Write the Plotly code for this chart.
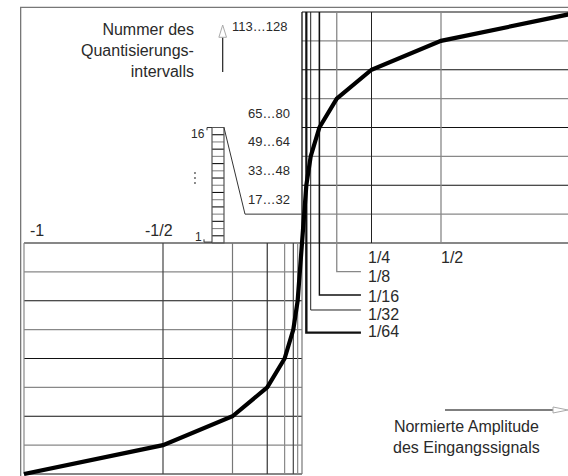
import plotly.graph_objects as go

# --- A-law 13-segment compander characteristic (positive half) ---
# normalised input amplitude at the segment breakpoints
seg_x = [0, 1/64, 1/32, 1/16, 1/8, 1/4, 1/2, 1]
# quantisation interval number reached at each breakpoint
seg_code = [0, 32, 48, 64, 80, 96, 112, 128]
n_codes = 128
n_rows = 8                       # 8 rows of 16 intervals each

# vertical grid lines (upper right quadrant) and their style
grid_x = [0, 1/64, 1/32, 1/16, 1/8, 1/4, 1/2, 1]
grid_x_col = ["#111", "#111", "#222", "#111", "#888", "#222", "#888", "#111"]
grid_x_w = [1.3, 2.2, 1.0, 1.6, 1.3, 1.0, 1.3, 1.0]

# vertical grid lines (lower left quadrant)
grid_xn = [-1, -1/2, -1/4, -1/8, -1/16, -1/32, -1/64]
grid_xn_col = ["#888", "#444", "#777", "#333", "#888", "#444", "#888"]

# fractions with leader lines and their labels
leader_x = [1/8, 1/16, 1/32, 1/64]
leader_lab = ["1/8", "1/16", "1/32", "1/64"]
leader_y = [-0.124, -0.225, -0.290, -0.388]
leader_lab_y = [-0.146, -0.233, -0.309, -0.384]
leader_col = ["#888", "#111", "#222", "#111"]
leader_w = [1.3, 1.4, 1.0, 2.4]

top_lab = ["1/4", "1/2"]
top_lab_x = [0.230, 0.493]
neg_lab = ["-1", "-1/2"]
neg_lab_x = [-0.986, -0.572]

# interval-number labels for some rows
row_idx = [1, 2, 3, 4, 7]
row_lab = ["17…32", "33…48", "49…64", "65…80", "113…128"]
row_lab_x = [-0.2014, -0.2014, -0.2014, -0.2014, -0.259]

inset_cells = 16                 # intervals 1…16 shown enlarged

# ---------------------------------------------------------------
BLACK, GREY = "#111", "#888"
FONT = "Liberation Sans, Arial, sans-serif"
TXT = "#2a2a2a"

# canvas geometry (x: 278 px per unit, y: 231 px per unit)
x_range = [-302 / 278, 266 / 278]
y_range = [-233 / 231, 243 / 231]

fig = go.Figure()


def line(xs, ys, color, width=1.0):
    fig.add_trace(go.Scatter(x=xs, y=ys, mode="lines", hoverinfo="skip",
                             line=dict(color=color, width=width),
                             showlegend=False))


# horizontal grid lines
for k in range(n_rows + 1):
    c = BLACK if k % 2 == 0 else GREY
    line([0, 1], [k / n_rows, k / n_rows], c, 1.2)
    line([-1, 0], [-k / n_rows, -k / n_rows], c, 1.2)

# vertical grid lines, upper right
for gx, c, w in zip(grid_x, grid_x_col, grid_x_w):
    line([gx, gx], [0, 1], c, w)
# vertical grid lines, lower left
for gx, c in zip(grid_xn, grid_xn_col):
    line([gx, gx], [-1, 0], c, 1.2)
line([0, 0], [-1, 0], "#777", 1.2)

# leader lines to the fraction labels
leader_end = 0.212
for gx, gy, c, w in zip(leader_x, leader_y, leader_col, leader_w):
    line([gx, gx, leader_end], [0, gy, gy], c, w)

# enlarged first row: intervals 1…16
ix0, ix1 = -0.3237, -0.2806
cell = 1 / 32
inset_top = inset_cells * cell
for k in range(1, inset_cells):
    line([ix0, ix1], [k * cell, k * cell], BLACK if k % 2 else GREY, 1.1)
line([ix0, ix1, ix1, ix0, ix0], [0, 0, inset_top, inset_top, 0], "#555", 1.2)
# link from the inset top to the 1/8 row line
line([ix1, -0.205, 0], [inset_top, 1 / n_rows, 1 / n_rows], "#333", 1.0)
# small ticks for "16" and "1"
line([-0.3417, -0.3417, ix0], [inset_top - 0.012, inset_top, inset_top], "#333", 1.0)
line([-0.3525, -0.3525, ix0], [0.016, 0.004, 0.004], "#333", 1.0)
fig.add_trace(go.Scatter(x=[-0.385] * 3, y=[0.303, 0.281, 0.260], mode="markers",
                         marker=dict(size=2, color="#666"), hoverinfo="skip",
                         showlegend=False))

# characteristic curve, point-symmetric about the origin
cx = [-v for v in reversed(seg_x)] + seg_x[1:]
cy = [-c / n_codes for c in reversed(seg_code)] + [c / n_codes for c in seg_code[1:]]
fig.add_trace(go.Scatter(x=cx, y=cy, mode="lines", hoverinfo="skip",
                         line=dict(color="#000", width=4.2), showlegend=False))

# outer frame
fig.add_shape(type="rect", x0=-1.012, x1=1.5, y0=-1.5, y1=1.0203,
              line=dict(color="#777", width=1.3), layer="below")

# axis arrows (hollow heads)
ax_x = -0.2853
line([ax_x, ax_x], [0.7403, 0.8905], "#222", 1.2)
fig.add_shape(type="path",
              path=f"M {ax_x-0.0137},0.8905 L {ax_x},0.9437 L {ax_x+0.0137},0.8905 Z",
              line=dict(color="#aaa", width=1), fillcolor="white")
ay = -0.7229
line([0.5144, 0.9029], [ay, ay], "#555", 1.4)
fig.add_shape(type="path",
              path=f"M 0.9029,{ay-0.013} L 0.957,{ay} L 0.9029,{ay+0.013} Z",
              line=dict(color="#aaa", width=1), fillcolor="white")


def text(x, y, s, size, xanchor="left", align="left"):
    fig.add_annotation(x=x, y=y, text=s, showarrow=False, xanchor=xanchor,
                       yanchor="middle", align=align,
                       font=dict(family=FONT, size=size, color=TXT))


for ly, s in zip(leader_lab_y, leader_lab):
    text(0.230, ly, s, 16)
for xx, s in zip(top_lab_x, top_lab):
    text(xx, -0.062, s, 16)
for xx, s in zip(neg_lab_x, neg_lab):
    text(xx, 0.056, s, 16)
for r, s, xx in zip(row_idx, row_lab, row_lab_x):
    text(xx, (r + 0.5) / n_rows, s, 13)
text(-0.3417, 0.472, "16", 12, xanchor="right")
text(-0.3525, 0.024, "1", 12, xanchor="right")

text(-0.3813, 0.8355, "Nummer des<br>Quantisierungs-<br>intervalls", 16,
     xanchor="right", align="right")
fig.add_annotation(x=0.5935, y=-0.8398, text="Normierte Amplitude<br>des Eingangssignals",
                   showarrow=False, xanchor="center", yanchor="middle", align="center",
                   font=dict(family=FONT, size=16, color=TXT))

fig.update_layout(
    width=568, height=476,
    margin=dict(l=0, r=0, t=0, b=0),
    paper_bgcolor="white", plot_bgcolor="white",
    xaxis=dict(range=x_range, visible=False, fixedrange=True),
    yaxis=dict(range=y_range, visible=False, fixedrange=True),
    showlegend=False,
)

fig.write_html("out.html")
